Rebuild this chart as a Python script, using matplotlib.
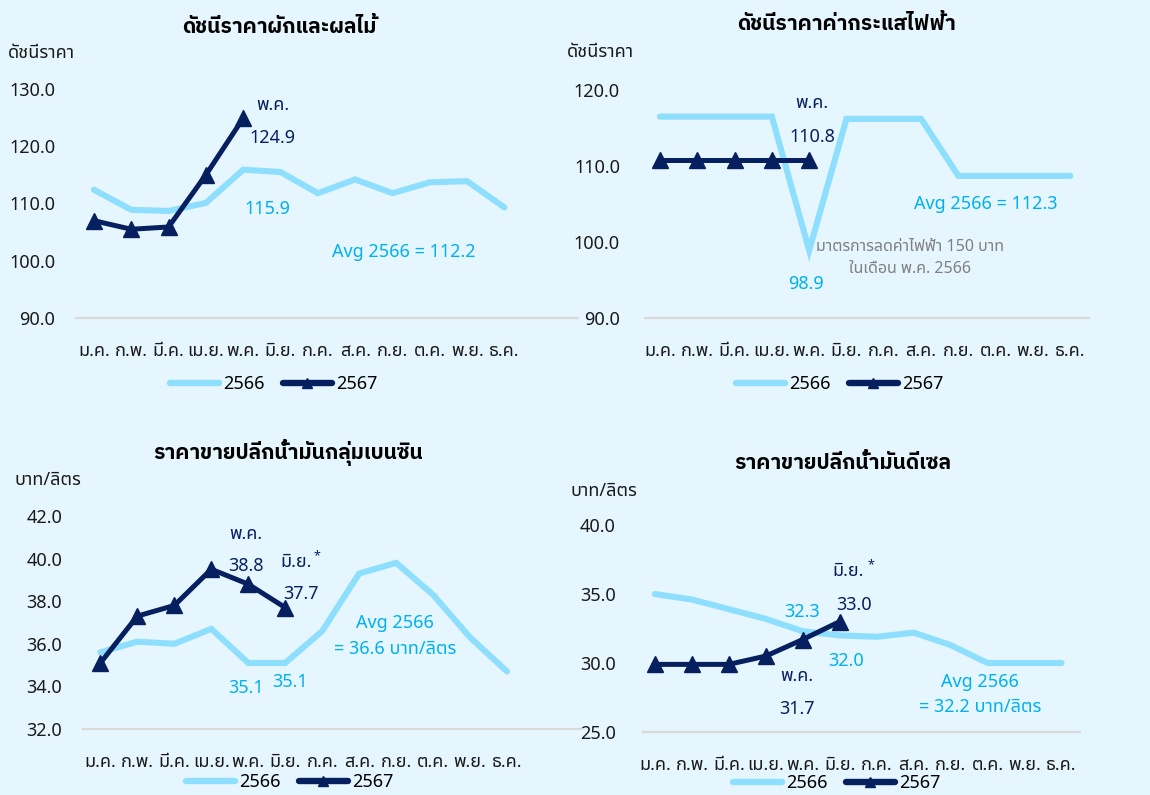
"""Four-panel Thai price index / retail fuel price chart (2566 vs 2567)."""
import matplotlib

matplotlib.use("Agg")
import matplotlib.pyplot as plt
from matplotlib.lines import Line2D

W, H = 1150, 795
DPI = 100

BG = "#E6F6FE"
LIGHT = "#8EDFFD"
NAVY = "#06205F"
LABEL_LIGHT = "#00B0F0"
GRAY_TXT = "#7F7F7F"
AXIS_GRAY = "#D9D9D9"
INK = "#1A1A1A"
TITLE_FONT = ["IBM Plex Sans Thai", "Noto Sans Thai", "DejaVu Sans"]

plt.rcParams["font.family"] = ["Noto Sans Thai", "Noto Sans", "DejaVu Sans"]

MONTHS = ["ม.ค.", "ก.พ.", "มี.ค.", "เม.ย.", "พ.ค.", "มิ.ย.",
          "ก.ค.", "ส.ค.", "ก.ย.", "ต.ค.", "พ.ย.", "ธ.ค."]
LEGEND_LABELS = ["2566", "2567"]

# vegetable & fruit price index
VEG_2566 = [112.4, 108.9, 108.7, 110.1, 115.9, 115.5,
            111.8, 114.2, 111.8, 113.7, 113.9, 109.3]
VEG_2567 = [107.0, 105.5, 105.9, 115.0, 124.9]
VEG_TICKS = [90, 100, 110, 120, 130]

# electricity price index
ELEC_2566 = [116.5, 116.5, 116.5, 116.5, 98.9, 116.2,
             116.2, 116.2, 108.7, 108.7, 108.7, 108.7]
ELEC_2567 = [110.8, 110.8, 110.8, 110.8, 110.8]
ELEC_TICKS = [90, 100, 110, 120]

# gasoline group retail price (baht/litre)
GAS_2566 = [35.6, 36.1, 36.0, 36.7, 35.1, 35.1,
            36.6, 39.3, 39.8, 38.3, 36.3, 34.7]
GAS_2567 = [35.1, 37.3, 37.8, 39.5, 38.8, 37.7]
GAS_TICKS = [32, 34, 36, 38, 40, 42]

# diesel retail price (baht/litre)
DSL_2566 = [35.0, 34.6, 33.9, 33.2, 32.3, 32.0,
            31.9, 32.2, 31.3, 30.0, 30.0, 30.0]
DSL_2567 = [29.9, 29.9, 29.9, 30.5, 31.7, 33.0]
DSL_TICKS = [25, 30, 35, 40]


def px_axes(fig, x0, x1, ytop, ybot):
    return fig.add_axes([x0 / W, 1 - ybot / H, (x1 - x0) / W, (ybot - ytop) / H])


def fx(x):
    return x / W


def fy(y):
    return 1 - y / H


def panel(fig, box, xlim, ticks, s66, s67, ypad):
    ax = px_axes(fig, *box)
    ax.set_facecolor("none")
    ax.plot(range(len(s66)), s66, color=LIGHT, lw=4.4, solid_joinstyle="miter",
            solid_capstyle="round", zorder=2)
    ax.plot(range(len(s67)), s67, color=NAVY, lw=3.6, marker="^", ms=11,
            solid_joinstyle="miter", zorder=3)
    ax.set_xlim(*xlim)
    ax.set_ylim(ticks[0], ticks[-1])
    ax.set_yticks(ticks)
    ax.set_yticklabels([f"{t:.1f}" for t in ticks])
    ax.set_xticks(range(12))
    ax.set_xticklabels(MONTHS)
    ax.tick_params(axis="both", length=0, labelsize=13, colors=INK)
    ax.tick_params(axis="y", pad=ypad)
    ax.tick_params(axis="x", pad=17)
    for sp in ("top", "right", "left"):
        ax.spines[sp].set_visible(False)
    ax.spines["bottom"].set_color(AXIS_GRAY)
    ax.spines["bottom"].set_linewidth(1.6)
    return ax


def note(ax, text, i, val, dx, dy, color, size=13):
    ax.annotate(text, xy=(i, val), xytext=(dx, dy), textcoords="offset pixels",
                ha="center", va="center", color=color, fontsize=size,
                annotation_clip=False)


def legend(fig, cx, cy):
    handles = [Line2D([], [], color=LIGHT, lw=4.6, solid_capstyle="round"),
               Line2D([], [], color=NAVY, lw=4.6, marker="^", ms=7,
                      solid_capstyle="round")]
    fig.legend(handles, LEGEND_LABELS, loc="center",
               bbox_to_anchor=(fx(cx), fy(cy)), ncol=2, frameon=False,
               fontsize=13, handlelength=2.7, handletextpad=0.25,
               columnspacing=1.0, numpoints=1, borderpad=0)


def title(fig, x, y, text):
    fig.text(fx(x), fy(y), text, ha="center", va="center", fontsize=15,
             fontweight="bold", color="black", family=TITLE_FONT)


fig = plt.figure(figsize=(W / DPI, H / DPI), dpi=DPI, facecolor=BG)

# --- top-left: vegetables & fruit
ax = panel(fig, (76, 578, 89, 318), (-0.48, 12.97), VEG_TICKS,
           VEG_2566, VEG_2567, ypad=15)
note(ax, "พ.ค.", 4, VEG_2567[4], 30, 13, NAVY)
note(ax, f"{VEG_2567[4]:.1f}", 4, VEG_2567[4], 29, -20, NAVY)
note(ax, f"{VEG_2566[4]:.1f}", 4, VEG_2566[4], 24, -39, LABEL_LIGHT)
ax.text(8.3, 101.5, "Avg 2566 = 112.2", ha="center", va="center",
        color=LABEL_LIGHT, fontsize=13)
title(fig, 279, 27, "ดัชนีราคาผักและผลไม้")
fig.text(fx(8), fy(53), "ดัชนีราคา", ha="left", va="center", fontsize=13, color=INK)
legend(fig, 274, 384)

# --- top-right: electricity
ax = panel(fig, (645, 1089, 90, 318), (-0.4, 11.5), ELEC_TICKS,
           ELEC_2566, ELEC_2567, ypad=18)
note(ax, "พ.ค.", 4, ELEC_2567[4], 3, 57, NAVY)
note(ax, f"{ELEC_2567[4]:.1f}", 4, ELEC_2567[4], 3, 23, NAVY)
note(ax, f"{ELEC_2566[4]:.1f}", 4, ELEC_2566[4], -3, -34, LABEL_LIGHT)
ax.text(8.73, 105.0, "Avg 2566 = 112.3", ha="center", va="center",
        color=LABEL_LIGHT, fontsize=13)
ax.text(6.7, 99.4, "มาตรการลดค่าไฟฟ้า 150 บาท", ha="center", va="center",
        color=GRAY_TXT, fontsize=11.5)
ax.text(6.7, 96.4, "ในเดือน พ.ค. 2566", ha="center", va="center",
        color=GRAY_TXT, fontsize=11.5)
title(fig, 846, 24, "ดัชนีราคาค่ากระแสไฟฟ้า")
fig.text(fx(567), fy(52), "ดัชนีราคา", ha="left", va="center", fontsize=13, color=INK)
legend(fig, 840, 384)

# --- bottom-left: gasoline group
ax = panel(fig, (83, 581, 516, 729), (-0.47, 13.0), GAS_TICKS,
           GAS_2566, GAS_2567, ypad=15)
note(ax, "พ.ค.", 4, GAS_2567[4], -2, 50, NAVY)
note(ax, f"{GAS_2567[4]:.1f}", 4, GAS_2567[4], -2, 18, NAVY)
note(ax, "มิ.ย.", 5, GAS_2567[5], 11, 46, NAVY)
note(ax, "*", 5, GAS_2567[5], 32, 52, NAVY, size=9)
note(ax, f"{GAS_2567[5]:.1f}", 5, GAS_2567[5], 16, 14, NAVY)
note(ax, f"{GAS_2566[4]:.1f}", 4, GAS_2566[4], -2, -25, LABEL_LIGHT)
note(ax, f"{GAS_2566[5]:.1f}", 5, GAS_2566[5], 5, -19, LABEL_LIGHT)
ax.text(7.98, 36.99, "Avg 2566", ha="center", va="center",
        color=LABEL_LIGHT, fontsize=13)
ax.text(7.98, 35.77, "= 36.6 บาท/ลิตร", ha="center", va="center",
        color=LABEL_LIGHT, fontsize=13)
title(fig, 288, 452, "ราคาขายปลีกน้ำมันกลุ่มเบนซิน")
fig.text(fx(15), fy(480), "บาท/ลิตร", ha="left", va="center", fontsize=13, color=INK)
legend(fig, 290, 782)

# --- bottom-right: diesel
ax = panel(fig, (643, 1080, 525, 732), (-0.32, 11.5), DSL_TICKS,
           DSL_2566, DSL_2567, ypad=19.5)
note(ax, "มิ.ย.", 5, DSL_2567[5], 8, 51, NAVY)
note(ax, "*", 5, DSL_2567[5], 31, 57, NAVY, size=9)
note(ax, f"{DSL_2567[5]:.1f}", 5, DSL_2567[5], 14, 17, NAVY)
note(ax, f"{DSL_2566[4]:.1f}", 4, DSL_2566[4], -1, 19, LABEL_LIGHT)
note(ax, f"{DSL_2566[5]:.1f}", 5, DSL_2566[5], 6, -26, LABEL_LIGHT)
note(ax, "พ.ค.", 4, DSL_2567[4], -6, -36, NAVY)
note(ax, f"{DSL_2567[4]:.1f}", 4, DSL_2567[4], -6, -69, NAVY)
ax.text(8.79, 28.64, "Avg 2566", ha="center", va="center",
        color=LABEL_LIGHT, fontsize=13)
ax.text(8.79, 26.79, "= 32.2 บาท/ลิตร", ha="center", va="center",
        color=LABEL_LIGHT, fontsize=13)
title(fig, 843, 463, "ราคาขายปลีกน้ำมันดีเซล")
fig.text(fx(570), fy(491), "บาท/ลิตร", ha="left", va="center", fontsize=13, color=INK)
legend(fig, 837, 783)

fig.savefig("out.png", dpi=DPI, facecolor=BG)
